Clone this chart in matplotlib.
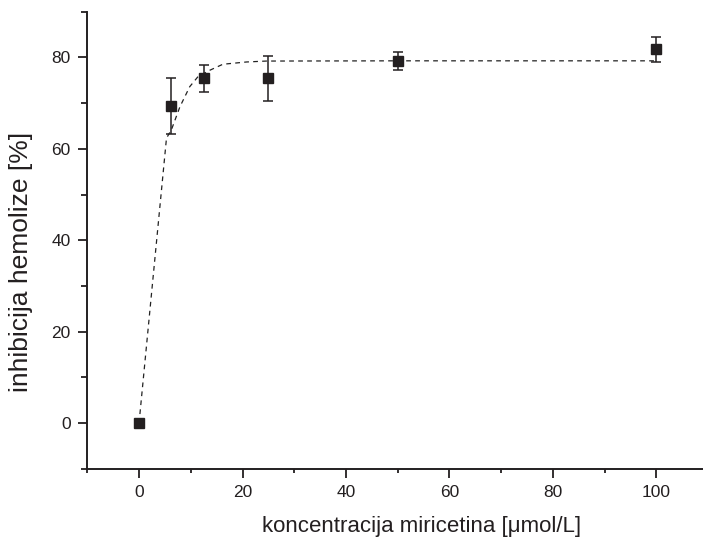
import numpy as np
import matplotlib
matplotlib.use("Agg")
import matplotlib.pyplot as plt
from matplotlib.ticker import MultipleLocator

plt.rcParams['font.family'] = ['Liberation Sans', 'DejaVu Sans']

# measured points
conc = [0, 6.25, 12.5, 25, 50, 100]
inhib = [0, 69.3, 75.4, 75.4, 79.25, 81.8]
inhib_err = [0, 6.1, 2.9, 5.0, 1.95, 2.75]

# fitted curve
fit_x = [0, 5.3, 6.3, 7.9, 9.8, 11.4, 13.7, 16.2, 20.8, 24.6, 50, 100]
fit_y = [0, 62.3, 64.3, 69.2, 73.6, 75.8, 77.2, 78.5, 79.0, 79.2, 79.25, 79.25]

fig = plt.figure(figsize=(7.03, 5.39), dpi=100)
ax = fig.add_axes([0.1242, 0.1304, 0.8758, 0.8479])

ax.plot(fit_x, fit_y, color="#222222", linestyle="--", linewidth=0.9,
        dashes=(3.8, 3.4), zorder=2)
ax.errorbar(conc, inhib, yerr=inhib_err, fmt="s", color="#231f20",
            markersize=7.2, elinewidth=1.1, capsize=3.6, capthick=1.1,
            zorder=3)

ax.set_xlim(-10, 109)
ax.set_ylim(-10, 90)
ax.xaxis.set_major_locator(MultipleLocator(20))
ax.xaxis.set_minor_locator(MultipleLocator(10))
ax.yaxis.set_major_locator(MultipleLocator(20))
ax.yaxis.set_minor_locator(MultipleLocator(10))

for side in ["top", "right"]:
    ax.spines[side].set_visible(False)
for side in ["left", "bottom"]:
    ax.spines[side].set_linewidth(1.4)
    ax.spines[side].set_color("#231f20")

ax.tick_params(which="major", direction="out", length=6.5, width=1.3,
               labelsize=12.5, pad=5.5, colors="#231f20")
ax.tick_params(which="minor", direction="out", length=4, width=1.3,
               colors="#231f20")
ax.tick_params(axis="x", which="minor", length=3)

ax.set_xlabel("koncentracija miricetina [\u03bcmol/L]", fontsize=16, color="#231f20")
ax.set_ylabel("inhibicija hemolize [%]", fontsize=19, color="#231f20")
ax.xaxis.set_label_coords((422 - 87.3) / (703 - 87.3), -(516 - 468.7) / 456.9)
ax.yaxis.set_label_coords(-(87.3 - 33) / 615.7, (468.7 - 262) / 457)

fig.savefig("out.png", dpi=100)
